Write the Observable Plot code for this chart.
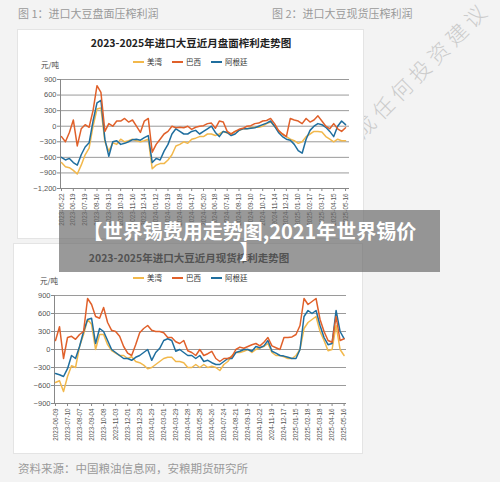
<!DOCTYPE html>
<html><head><meta charset="utf-8">
<script src="https://cdn.jsdelivr.net/npm/d3@7"></script>
<script src="https://cdn.jsdelivr.net/npm/@observablehq/plot@0.6"></script>
<style>
html,body{margin:0;padding:0;}
body{background:#f3f3f3;width:500px;height:482px;overflow:hidden;position:relative;font-family:"Noto Sans CJK SC",sans-serif;}
.abs{position:absolute;}
.hdr{color:#9a9a9a;font-size:11px;white-space:nowrap;}
.panel{background:#fff;border:1px solid #e4e4e4;box-sizing:border-box;}
.title{font-size:10.5px;font-weight:bold;color:#222;white-space:nowrap;transform:translateX(-50%);}
.leg{font-size:7.5px;color:#333;white-space:nowrap;display:flex;align-items:center;gap:3px;}
.sw{display:inline-block;width:11px;height:2px;}
.unit{font-size:7.5px;color:#444;}
#wm{color:#cbcbcb;font-size:21px;font-weight:300;line-height:28px;white-space:nowrap;transform-origin:0 0;transform:rotate(-45deg);letter-spacing:5px;}
#banner{left:59px;top:210px;width:381px;height:62px;background:rgba(105,105,105,0.68);color:#fff;font-weight:bold;font-size:20px;line-height:20px;text-align:center;display:flex;flex-direction:column;justify-content:center;}
</style></head><body>
<script>
// ---- data ----
const topLabels = ["2023-05-22","2023-06-19","2023-07-19","2023-08-16","2023-09-13","2023-10-19","2023-11-16","2023-12-14","2024-01-12","2024-02-19","2024-03-18","2024-04-17","2024-05-20","2024-06-18","2024-07-16","2024-08-13","2024-09-10","2024-10-17","2024-11-14","2024-12-12","2025-01-10","2025-02-17","2025-03-17","2025-04-15","2025-05-16"];
const botLabels = ["2023-06-09","2023-07-10","2023-08-07","2023-09-04","2023-10-08","2023-11-03","2023-12-01","2023-12-29","2024-01-29","2024-03-01","2024-03-29","2024-04-28","2024-05-28","2024-06-26","2024-07-24","2024-08-21","2024-09-19","2024-10-22","2024-11-19","2024-12-17","2025-01-15","2025-02-18","2025-03-18","2025-04-16","2025-05-16"];
const seriesNames = ["美湾","巴西","阿根廷"];
const seriesColors = ["#f2b84b","#e0602a","#1f6e9e"];

const topGulf = [-700,-780,-800,-850,-920,-750,-550,-420,0,330,350,-300,-480,-320,-350,-250,-300,-280,-250,-280,-300,-280,-250,-820,-750,-720,-720,-650,-550,-380,-350,
 -300,-330,-250,-230,-200,-200,-150,-150,-180,-150,-100,-130,-150,-100,-80,-50,-50,-30,-20,-20,0,50,80,0,-100,-150,-200,-250,-280,-330,-300,-200,-150,-100,-100,-110,-200,-250,-300,-250,-280,-280];
const topBrazil = [-200,-300,-120,120,-380,-50,30,-20,300,780,650,-100,50,0,100,100,150,80,120,0,-120,100,150,-500,-350,-250,-150,-100,0,-30,-20,
 -30,0,-60,-20,0,10,50,60,-40,100,80,-100,-150,-100,-60,-40,0,10,50,60,100,110,150,50,-80,-150,-200,150,120,100,50,150,80,120,200,100,0,-50,50,-50,-100,-30];
const topArg = [-600,-650,-620,-700,-750,-550,-400,-320,100,450,500,-250,-580,-300,-280,-350,-330,-300,-260,-250,-270,-220,-180,-700,-620,-650,-480,-350,-150,-50,-100,
 -150,-150,-100,-80,-150,-100,-50,0,-120,-200,-100,-120,-180,-150,-80,-50,-50,-40,-30,0,30,60,100,0,-120,-200,-250,-270,-350,-470,-520,-250,-80,0,50,30,-20,-100,-200,0,100,30];

const botGulf = [-550,-520,-700,-450,-270,-300,50,250,500,420,0,250,250,80,-20,-60,-100,-100,-150,-120,-200,-220,-260,-320,-300,-250,-200,-150,-130,-130,-200,
 -200,-220,-300,-300,-250,-300,-250,-300,-280,-300,-350,-250,-200,-100,-50,-50,-30,0,-50,0,30,50,100,-50,-100,-100,-120,-150,-150,-100,0,350,450,500,550,300,150,-20,0,400,0,-100];
const botBrazil = [150,380,-150,200,220,170,250,300,850,750,550,520,700,450,320,300,220,50,-60,-100,80,280,350,400,320,300,300,280,200,200,130,
 100,150,-20,-50,-100,0,-100,-70,-30,-150,-200,-150,-150,-120,0,40,20,50,80,100,60,120,200,60,30,0,200,200,210,250,400,850,750,800,850,500,300,150,120,550,150,180];
const botArg = [-400,-420,-450,-320,-100,-150,50,300,500,520,100,350,300,150,0,-50,-100,-150,-150,-180,-130,-100,-50,0,-180,-50,20,150,180,150,-30,
 0,-50,-100,-100,-150,-100,-200,-180,-220,-250,-250,-200,-150,-150,-50,-30,0,0,-30,50,30,60,150,-30,-60,-100,-110,-130,-150,-150,0,550,650,600,650,400,200,80,100,650,300,180];

const topYTicks = [-1200,-900,-600,-300,0,300,600,900];
const botYTicks = [-900,-600,-300,0,300,600,900];
</script>

<div class="abs hdr" style="left:18px;top:5px;">图 1：进口大豆盘面压榨利润</div>
<div class="abs hdr" style="left:272px;top:5px;">图 2：进口大豆现货压榨利润</div>
<div class="abs" id="wm" style="left:310px;top:160px;">不构成任何投资建议</div>

<div class="abs panel" style="left:17px;top:29px;width:347px;height:210px;"></div>
<div class="abs panel" style="left:13px;top:243px;width:350px;height:211px;"></div>

<div class="abs title" style="left:191px;top:35px;">2023-2025年进口大豆近月盘面榨利走势图</div>
<div class="abs title" style="left:189px;top:250px;">2023-2025年进口大豆近月现货榨利走势图</div>

<div id="leg1" class="abs" style="left:133px;top:56px;display:flex;gap:10px;"></div>
<div id="leg2" class="abs" style="left:133px;top:272px;display:flex;gap:10px;"></div>

<div class="abs unit" style="left:41px;top:59px;">元/吨</div>
<div class="abs unit" style="left:40px;top:275px;">元/吨</div>

<div id="c1" class="abs" style="left:17px;top:30px;"></div>
<div id="c2" class="abs" style="left:14px;top:243px;"></div>

<div id="banner" class="abs"><div>【世界锡费用走势图,2021年世界锡价</div><div>】</div></div>

<div class="abs hdr" style="left:18px;top:460px;font-size:11.5px;">资料来源：中国粮油信息网，安粮期货研究所</div>

<script>
for (const id of ["leg1","leg2"]) {
  const el = document.getElementById(id);
  seriesNames.forEach((n,i)=>{
    const d = document.createElement("div");
    d.className = "leg";
    d.innerHTML = `<span class="sw" style="background:${seriesColors[i]}"></span><span>${n}</span>`;
    el.appendChild(d);
  });
}

function makeChart(opts) {
  const {series, labels, yTicks, yDomain, width, height, ml, mr, mt, mb, xDomain} = opts;
  const xt = labels.map((_,i)=>i*3);
  const lineMarks = [0,1,2].map(j => Plot.line(series[j], {x:(d,i)=>i, y:d=>d, stroke:seriesColors[j], strokeWidth:1.5}));
  const svg = Plot.plot({
    width, height, marginLeft: ml, marginRight: mr, marginTop: mt, marginBottom: mb,
    style: {fontFamily: "'Liberation Sans', Arial, sans-serif", fontSize: "8px", color: "#555", background: "transparent", overflow: "visible", display: "block"},
    x: {domain: xDomain},
    y: {domain: yDomain},
    marks: [
      Plot.gridY(yTicks, {stroke: "#9a9a9a", strokeOpacity: 1, strokeWidth: 1}),
      Plot.ruleX([xDomain[0]], {stroke: "#888"}),
      Plot.ruleY([yDomain[0]], {stroke: "#888"}),
      lineMarks[0], lineMarks[2], lineMarks[1],
      Plot.axisY(yTicks, {tickSize: 3, tickPadding: 1, fontSize: 7.5, label: null, stroke:"#888"}),
      Plot.axisX(xt, {tickSize: 3, tickPadding: 2, tickRotate: -90, fontSize: 6.3, label: null, tickFormat: i => labels[i/3], stroke:"#888"})
    ]
  });
  return svg;
}

document.getElementById("c1").appendChild(makeChart({
  series: [topGulf, topBrazil, topArg], labels: topLabels, yTicks: topYTicks, yDomain: [-1200, 900],
  width: 346, height: 208, ml: 43, mr: 14, mt: 49, mb: 50, xDomain: [-0.25, 73]
}));
document.getElementById("c2").appendChild(makeChart({
  series: [botGulf, botBrazil, botArg], labels: botLabels, yTicks: botYTicks, yDomain: [-900, 900],
  width: 348, height: 210, ml: 40, mr: 16, mt: 52, mb: 50, xDomain: [-0.25, 72.6]
}));
</script>
</body></html>
